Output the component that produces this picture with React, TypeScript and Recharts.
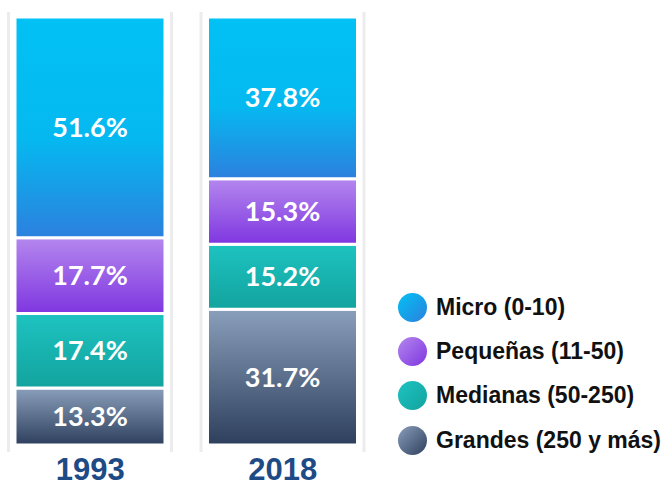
import { BarChart, Bar, XAxis, YAxis, LabelList, Legend } from "recharts";

const years = ["1993", "2018"];
const micro = [51.6, 37.8];
const pequenas = [17.7, 15.3];
const medianas = [17.4, 15.2];
const grandes = [13.3, 31.7];

const series = [
  { key: "grandes", name: "Grandes (250 y más)", top: "#8a9fbb", bottom: "#2d3f5c" },
  { key: "medianas", name: "Medianas (50-250)", top: "#1dc3c1", bottom: "#13a39e" },
  { key: "pequenas", name: "Pequeñas (11-50)", top: "#b487ee", bottom: "#7f36e0" },
  { key: "micro", name: "Micro (0-10)", top: "#02c1f4", bottom: "#2c80de" },
];

const data = years.map((year, i) => ({
  year,
  micro: micro[i],
  pequenas: pequenas[i],
  medianas: medianas[i],
  grandes: grandes[i],
}));

// light grey side rails behind each column
const Rails = (props: any) => {
  const { x, y, width, height } = props;
  return (
    <g>
      <rect x={x - 8} y={y - 5} width={3} height={height + 12} fill="#ececec" />
      <rect x={x + width + 5} y={y - 5} width={3} height={height + 12} fill="#ececec" />
    </g>
  );
};

const LegendBox = () => (
  <div style={{ fontFamily: "'Liberation Sans', Arial, sans-serif" }}>
    {[...series].reverse().map((s) => (
      <div key={s.key} style={{ display: "flex", alignItems: "center", height: 44.3 }}>
        <div
          style={{
            width: 29,
            height: 29,
            borderRadius: "50%",
            background: `linear-gradient(135deg, ${s.top}, ${s.bottom})`,
            marginRight: 9,
          }}
        />
        <span style={{ fontSize: 23, fontWeight: 700, color: "#111" }}>{s.name}</span>
      </div>
    ))}
  </div>
);

export default function App() {
  return (
    <div style={{ position: "absolute", left: 0, top: 0, background: "#fff" }}>
      <BarChart
        width={672}
        height={487}
        data={data}
        margin={{ top: 17, right: 293, bottom: 0, left: -6 }}
        barSize={150}
      >
        <defs>
          {series.map((s) => (
            <linearGradient key={s.key} id={`g-${s.key}`} x1="0" y1="0" x2="0" y2="1">
              <stop offset="0%" stopColor={s.top} />
              {s.key === "micro" && <stop offset="55%" stopColor="#05b9f0" />}
              <stop offset="100%" stopColor={s.bottom} />
            </linearGradient>
          ))}
        </defs>
        <XAxis
          dataKey="year"
          axisLine={false}
          tickLine={false}
          height={42}
          tickMargin={7}
          tick={{
            fill: "#1e4a86",
            fontSize: 31,
            fontWeight: 700,
            fontFamily: "'Liberation Sans', Arial, sans-serif",
          }}
        />
        <YAxis hide domain={[0, 100]} />
        <Legend
          layout="vertical"
          align="center"
          verticalAlign="middle"
          wrapperStyle={{ left: 398, top: 285, width: 274 }}
          content={() => <LegendBox />}
        />
        {series.map((s, idx) => (
          <Bar
            key={s.key}
            dataKey={s.key}
            name={s.name}
            stackId="a"
            fill={`url(#g-${s.key})`}
            stroke="#ffffff"
            strokeWidth={3}
            isAnimationActive={false}
            background={idx === 0 ? <Rails /> : undefined}
          >
            <LabelList
              dataKey={s.key}
              position="center"
              formatter={(v: any) => `${Number(v).toFixed(1)}%`}
              fill="#ffffff"
              style={{ fontSize: 27, fontWeight: 700, fontFamily: "Lato, sans-serif" }}
            />
          </Bar>
        ))}
      </BarChart>
    </div>
  );
}
